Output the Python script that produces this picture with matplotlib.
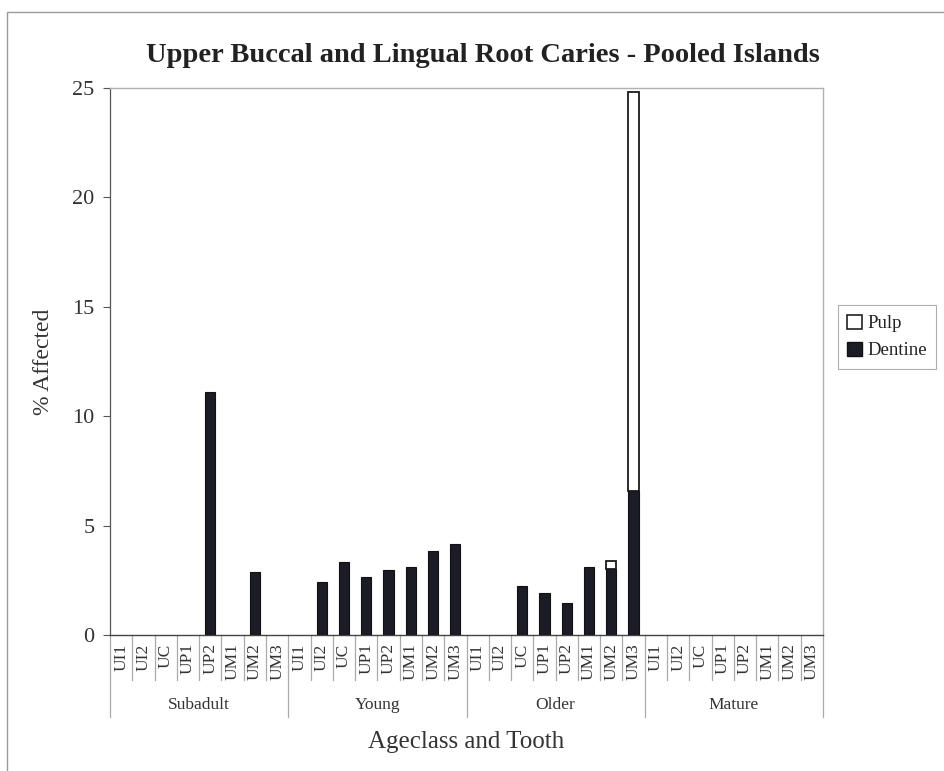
import matplotlib
matplotlib.use("Agg")
import matplotlib.pyplot as plt
import matplotlib.transforms as mtransforms
from matplotlib.patches import Rectangle, Patch
import numpy as np

plt.rcParams['font.family'] = ['Liberation Serif', 'DejaVu Serif']

ageclasses = ["Subadult", "Young", "Older", "Mature"]
teeth = ["UI1", "UI2", "UC", "UP1", "UP2", "UM1", "UM2", "UM3"]

# % affected per tooth, grouped by ageclass (Dentine at bottom, Pulp stacked above)
dentine_subadult = [0, 0, 0, 0, 11.1, 0, 2.9, 0]
dentine_young = [0, 2.4, 3.35, 2.65, 2.95, 3.1, 3.85, 4.15]
dentine_older = [0, 0, 2.25, 1.9, 1.45, 3.1, 3.0, 6.6]
dentine_mature = [0, 0, 0, 0, 0, 0, 0, 0]

pulp_subadult = [0, 0, 0, 0, 0, 0, 0, 0]
pulp_young = [0, 0, 0, 0, 0, 0, 0, 0]
pulp_older = [0, 0, 0, 0, 0, 0, 0.4, 18.2]
pulp_mature = [0, 0, 0, 0, 0, 0, 0, 0]

dentine = np.array(dentine_subadult + dentine_young + dentine_older + dentine_mature, dtype=float)
pulp = np.array(pulp_subadult + pulp_young + pulp_older + pulp_mature, dtype=float)
n = len(dentine)
x = np.arange(n)

W, H = 944, 771
fig = plt.figure(figsize=(W / 100, H / 100), dpi=100)
fig.patch.set_facecolor("white")

# outer chart-area frame
fig.patches.append(Rectangle((7 / W, -0.05), 1.2, 1 - 12 / H + 0.05,
                             transform=fig.transFigure, fill=False,
                             edgecolor="#9a9a9a", linewidth=1.0))

left, right, top, bottom = 110 / W, 823 / W, 88 / H, 635 / H
ax = fig.add_axes([left, 1 - bottom, right - left, bottom - top])

bw = 0.46
d_mask = dentine > 0
p_mask = pulp > 0
ax.bar(x[d_mask], dentine[d_mask], bw, color="#1c1c26", edgecolor="#111111",
       linewidth=0.8, label="Dentine", zorder=3)
ax.bar(x[p_mask], pulp[p_mask], bw, bottom=dentine[p_mask], color="white",
       edgecolor="#1a1a1a", linewidth=1.3, label="Pulp", zorder=3)

ax.set_xlim(-0.5, n - 0.5)
ax.set_ylim(0, 25)
ax.set_yticks(np.arange(0, 26, 5))
ax.tick_params(axis="y", direction="out", length=5, width=0.8, colors="#555555",
               labelsize=16, labelcolor="#333333", pad=6)

for side in ["top", "right"]:
    ax.spines[side].set_color("#b0b0b0")
    ax.spines[side].set_linewidth(1.0)
ax.spines["left"].set_color("#555555")
ax.spines["bottom"].set_color("#444444")
ax.spines["left"].set_linewidth(0.9)
ax.spines["bottom"].set_linewidth(1.0)

# tooth labels
ax.set_xticks(x)
ax.set_xticklabels(teeth * len(ageclasses), rotation=90, fontsize=12.5,
                   color="#333333", va="top")
ax.tick_params(axis="x", length=0, pad=6)

trans = mtransforms.blended_transform_factory(ax.transData, ax.transAxes)
axh_px = (bottom - top) * H
short = -45 / axh_px
long_ = -82 / axh_px
for b in np.arange(-0.5, n, 1.0):
    is_group = int(round(b + 0.5)) % len(teeth) == 0
    ax.plot([b, b], [0, long_ if is_group else short], transform=trans,
            color="#aaaaaa", linewidth=0.9, clip_on=False)

for gi, g in enumerate(ageclasses):
    cx = gi * len(teeth) + (len(teeth) - 1) / 2
    ax.text(cx, -70 / axh_px, g, transform=trans, ha="center", va="center",
            fontsize=12.5, color="#333333")

ax.text(0.5, -107 / axh_px, "Ageclass and Tooth", transform=ax.transAxes,
        ha="center", va="center", fontsize=18, color="#333333")
ax.set_ylabel("% Affected", fontsize=17, color="#333333", labelpad=13)

fig.text(483 / W, 1 - 56 / H,
         "Upper Buccal and Lingual Root Caries - Pooled Islands",
         ha="center", va="center", fontsize=20.5, fontweight="bold", color="#222222")

handles = [Patch(facecolor="white", edgecolor="#222222", linewidth=1.2, label="Pulp"),
           Patch(facecolor="#1c1c26", edgecolor="#111111", label="Dentine")]
leg = fig.legend(handles=handles, loc="center left",
                 bbox_to_anchor=(838 / W, 1 - 337 / H), fontsize=13.5,
                 frameon=True, fancybox=False, edgecolor="#999999",
                 handlelength=0.8, handleheight=0.8, handletextpad=0.25,
                 borderpad=0.5, labelspacing=0.5, borderaxespad=0)
leg.get_frame().set_linewidth(0.8)
for t in leg.get_texts():
    t.set_color("#222222")

fig.savefig("out.png", dpi=100, facecolor="white")
